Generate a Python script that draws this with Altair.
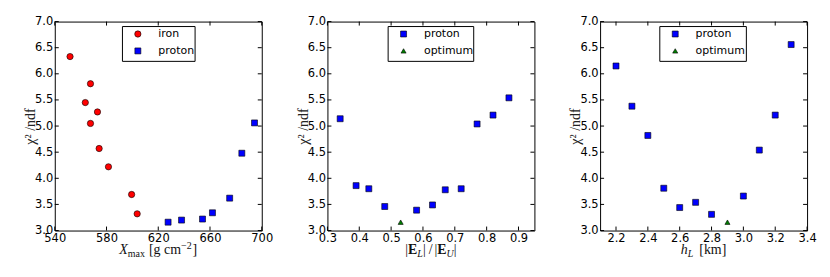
import altair as alt
import pandas as pd

# ---------------- data ----------------
iron_x = [551.8, 563.6, 567.6, 567.6, 573.0, 574.3, 581.5, 599.4, 603.7]
iron_y = [6.33, 5.45, 5.81, 5.05, 5.27, 4.57, 4.22, 3.69, 3.32]
p1_x = [627.6, 638.0, 654.2, 661.9, 675.2, 684.6, 694.4]
p1_y = [3.16, 3.20, 3.22, 3.34, 3.62, 4.48, 5.06]

p2_x = [0.34, 0.39, 0.43, 0.48, 0.58, 0.63, 0.67, 0.72, 0.77, 0.82, 0.87]
p2_y = [5.14, 3.86, 3.80, 3.46, 3.39, 3.49, 3.78, 3.80, 5.04, 5.21, 5.54]
opt2_x = [0.53]
opt2_y = [3.16]

p3_x = [2.2, 2.3, 2.4, 2.5, 2.6, 2.7, 2.8, 3.0, 3.1, 3.2, 3.3]
p3_y = [6.15, 5.38, 4.82, 3.81, 3.44, 3.54, 3.31, 3.66, 4.54, 5.21, 6.56]
opt3_x = [2.9]
opt3_y = [3.16]

y_ticks = [3.0, 3.5, 4.0, 4.5, 5.0, 5.5, 6.0, 6.5, 7.0]
x1_ticks = [540, 580, 620, 660, 700]
x2_ticks = [0.3, 0.4, 0.5, 0.6, 0.7, 0.8, 0.9]
x3_ticks = [2.2, 2.4, 2.6, 2.8, 3.0, 3.2, 3.4]

W, H = 208, 210
TICK = 4

GW = {' ': 250, '[': 333, ']': 333, 'g': 500, 'c': 444, 'm': 778, 'a': 444,
      'x': 500, 'k': 500, 'h': 500, '|': 200, '/': 278, 'E': 667, 'L': 556,
      'U': 722, 'X': 611, '−': 564, '2': 500}


def seg_width(text, size):
    return sum(GW.get(ch, 500) for ch in text) * size / 1000.0


def one_row():
    return pd.DataFrame({'a': [0]})


def title_layers(segments, base_y):
    total = sum(seg_width(s[0], s[1]) + s[5] for s in segments)
    x0 = W / 2 - total / 2
    layers = []
    for text, size, dy, style, weight, gap in segments:
        x0 += gap
        layers.append(
            alt.Chart(one_row()).mark_text(
                text=text, font='Liberation Serif', fontSize=size, fontStyle=style,
                fontWeight=weight, align='left', baseline='alphabetic', color='#111'
            ).encode(x=alt.value(x0), y=alt.value(base_y + dy))
        )
        x0 += seg_width(text, size)
    return layers


def box_layers(x0, x1, y0, y1):
    def r(**enc):
        return alt.Chart(one_row()).mark_rule(color='black', strokeWidth=1).encode(**enc)
    return [
        r(x=alt.value(x0), x2=alt.value(x1), y=alt.value(y0)),
        r(x=alt.value(x0), x2=alt.value(x1), y=alt.value(y1)),
        r(x=alt.value(x0), y=alt.value(y0), y2=alt.value(y1)),
        r(x=alt.value(x1), y=alt.value(y0), y2=alt.value(y1)),
    ]


def panel(df, xdom, xticks, xfmt, series, colors, shapes, sizes, segments, legend_x, legend_w):
    xscale = alt.Scale(domain=xdom, nice=False, zero=False)
    yscale = alt.Scale(domain=[3, 7], nice=False, zero=False)
    xaxis = alt.Axis(values=xticks, format=xfmt, title=None, labelFlush=False, labelOverlap=False)
    yaxis = alt.Axis(values=y_ticks, format='.1f', title='χ² /ndf', labelFlush=False,
                     labelOverlap=False)
    pts = alt.Chart(df).mark_point(filled=True, opacity=1, stroke='black', strokeWidth=0.6).encode(
        x=alt.X('x:Q', scale=xscale, axis=xaxis),
        y=alt.Y('y:Q', scale=yscale, axis=yaxis),
        color=alt.Color('series:N', scale=alt.Scale(domain=series, range=colors),
                        legend=alt.Legend(orient='none', legendX=legend_x, legendY=3, title=None,
                                          padding=4, labelFont='DejaVu Sans', labelFontSize=11,
                                          labelColor='black', rowPadding=5, symbolOffset=6,
                                          labelOffset=15, symbolStrokeColor='black',
                                          symbolStrokeWidth=0.6)),
        shape=alt.Shape('series:N', scale=alt.Scale(domain=series, range=shapes)),
        size=alt.Size('series:N', scale=alt.Scale(domain=series, range=sizes)),
    )
    xt = pd.DataFrame({'x': xticks})
    yt = pd.DataFrame({'y': y_ticks})
    rules = [
        alt.Chart(xt).mark_rule(color='black', strokeWidth=1).encode(
            x=alt.X('x:Q', scale=xscale, axis=xaxis), y=alt.value(H), y2=alt.value(H - TICK)),
        alt.Chart(xt).mark_rule(color='black', strokeWidth=1).encode(
            x=alt.X('x:Q', scale=xscale, axis=xaxis), y=alt.value(0), y2=alt.value(TICK)),
        alt.Chart(yt).mark_rule(color='black', strokeWidth=1).encode(
            y=alt.Y('y:Q', scale=yscale, axis=yaxis), x=alt.value(0), x2=alt.value(TICK)),
        alt.Chart(yt).mark_rule(color='black', strokeWidth=1).encode(
            y=alt.Y('y:Q', scale=yscale, axis=yaxis), x=alt.value(W - TICK), x2=alt.value(W)),
    ]
    return alt.layer(pts, *rules, *box_layers(legend_x, legend_x + legend_w, 5, 40),
                     *title_layers(segments, H + 24)).properties(width=W, height=H)


df1 = pd.concat([
    pd.DataFrame({'x': iron_x, 'y': iron_y, 'series': 'iron'}),
    pd.DataFrame({'x': p1_x, 'y': p1_y, 'series': 'proton'}),
])
df2 = pd.concat([
    pd.DataFrame({'x': p2_x, 'y': p2_y, 'series': 'proton'}),
    pd.DataFrame({'x': opt2_x, 'y': opt2_y, 'series': 'optimum'}),
])
df3 = pd.concat([
    pd.DataFrame({'x': p3_x, 'y': p3_y, 'series': 'proton'}),
    pd.DataFrame({'x': opt3_x, 'y': opt3_y, 'series': 'optimum'}),
])

seg1 = [('X', 14, 0, 'italic', 'normal', 0), ('max', 10, 3, 'normal', 'normal', 0),
        ('[g cm', 14, 0, 'normal', 'normal', 4), ('−2', 10, -5, 'normal', 'normal', 0),
        (']', 14, 0, 'normal', 'normal', 1)]
seg2 = [('|', 14, 0, 'normal', 'normal', 0), ('E', 14, 0, 'normal', 'bold', 0),
        ('L', 10, 3, 'italic', 'normal', 0), ('|', 14, 0, 'normal', 'normal', 0),
        ('/', 14, 0, 'normal', 'normal', 3), ('|', 14, 0, 'normal', 'normal', 2),
        ('E', 14, 0, 'normal', 'bold', 0), ('U', 10, 3, 'italic', 'normal', 0),
        ('|', 14, 0, 'normal', 'normal', 0)]
seg3 = [('h', 14, 0, 'italic', 'normal', 0), ('L', 10, 3, 'italic', 'normal', 0),
        ('[km]', 14, 0, 'normal', 'normal', 6)]

c1 = panel(df1, [540, 700], x1_ticks, 'd', ['iron', 'proton'], ['#ff0000', '#0000ff'],
           ['circle', 'square'], [40, 36], seg1, 68, 73)
c2 = panel(df2, [0.3, 0.95], x2_ticks, '.1f', ['proton', 'optimum'], ['#0000ff', '#008000'],
           ['square', 'triangle-up'], [36, 26], seg2, 61, 86)
c3 = panel(df3, [2.1, 3.4], x3_ticks, '.1f', ['proton', 'optimum'], ['#0000ff', '#008000'],
           ['square', 'triangle-up'], [36, 26], seg3, 60, 87)

chart = alt.hconcat(c1, c2, c3, spacing=66, bounds='flush').resolve_scale(
    color='independent', shape='independent', size='independent', x='independent'
).properties(
    padding={'left': 15, 'top': 6, 'right': 5, 'bottom': 5}
).configure_view(
    stroke='black', strokeWidth=1
).configure_axis(
    grid=False, domain=False, ticks=False, labelFont='DejaVu Sans', labelFontSize=11.5,
    labelColor='black', labelPadding=2, titleFont='Liberation Serif', titleFontSize=14,
    titleFontWeight='normal', titleColor='#222', titlePadding=-3, labelOverlap=False
)

chart.save("out.html", embed_options={"renderer": "svg", "actions": False})
